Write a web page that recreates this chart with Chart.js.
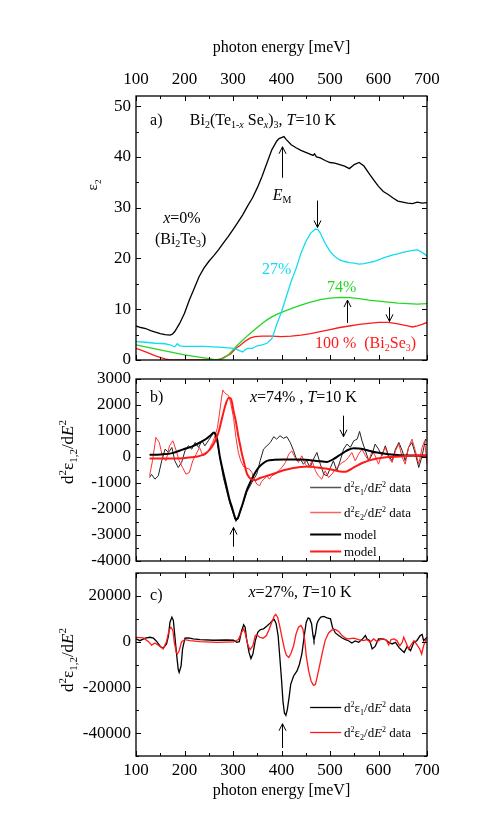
<!DOCTYPE html>
<html>
<head>
<meta charset="utf-8">
<script src="https://cdn.jsdelivr.net/npm/chart.js@4.4.1/dist/chart.umd.min.js"></script>
<style>
  html, body { margin: 0; padding: 0; background: #fff; }
  body { width: 491px; height: 839px; position: relative; overflow: hidden; }
  canvas { position: absolute; left: 0; }
</style>
</head>
<body>
<canvas id="chartA" width="491" height="380" style="top:0px"></canvas>
<canvas id="chartB" width="491" height="230" style="top:350px"></canvas>
<canvas id="chartC" width="491" height="284" style="top:555px"></canvas>
<script>
// tick labels
const energyTicks = [100, 200, 300, 400, 500, 600, 700];
const epsTicks = [0, 10, 20, 30, 40, 50];
const d2TicksB = [-4000, -3000, -2000, -1000, 0, 1000, 2000, 3000];
const d2TicksC = [-40000, -20000, 0, 20000];

// panel a: eps2 spectra
const eX0 = [100,110,120,130,140,150,160,170,175,180,190,200,210,220,230,240,250,260,270,280,290,300,310,320,330,340,350,360,370,380,390,395,400,405,410,420,430,440,450,460,465,468,472,480,490,500,510,520,530,540,550,560,570,580,590,600,610,620,630,640,650,660,670,680,690,700];
const epsX0 = [6.7,6.4,6.2,5.8,5.5,5.2,5.0,4.9,5.1,5.6,7.2,9.2,11.8,14.1,16.4,18.1,19.4,20.5,21.7,23.0,24.3,25.7,27.1,28.6,30.3,31.9,33.9,36.2,38.8,41.4,43.1,43.6,43.8,44.0,43.4,42.4,41.8,41.3,40.9,40.5,40.3,40.6,40.0,39.8,39.3,38.9,38.8,38.5,38.2,37.7,38.5,38.9,38.2,36.8,35.5,34.2,33.2,32.6,31.9,31.3,31.1,30.9,30.8,31.1,30.9,31.0];
const eX27 = [100,120,140,160,170,180,185,190,200,220,240,260,280,300,310,320,325,330,340,350,360,370,380,385,390,395,400,410,420,430,440,450,460,470,475,480,490,500,510,520,530,540,550,560,570,580,590,600,610,620,630,640,650,660,670,680,690,700];
const epsX27 = [3.6,3.5,3.3,3.2,3.0,2.6,3.2,2.8,2.7,2.7,2.7,2.6,2.5,2.3,2.0,1.6,2.0,2.3,2.3,2.8,3.0,3.3,4.2,5.5,7.0,8.2,9.5,12.5,15.5,18.0,21.0,23.3,25.0,25.8,25.7,25.0,23.0,21.4,20.4,19.7,19.4,19.2,19.1,18.9,19.0,19.2,19.4,19.7,20.1,20.4,20.7,20.9,21.2,21.4,21.6,21.7,21.2,20.5];
const eX74 = [100,120,140,160,180,200,220,240,260,270,280,290,300,310,320,330,340,350,360,370,380,390,400,420,440,460,480,500,520,540,560,580,600,620,640,660,680,700];
const epsX74 = [3.0,2.6,2.2,1.8,1.4,1.0,0.7,0.4,0.1,0.0,0.3,1.0,2.0,3.0,3.9,4.8,5.6,6.4,7.2,7.9,8.5,9.0,9.4,10.1,10.8,11.4,11.9,12.2,12.35,12.3,12.1,11.8,11.6,11.4,11.2,11.1,11.0,11.1];
const eX100 = [100,120,140,160,170,200,240,265,275,285,295,305,315,325,335,345,360,380,400,420,440,460,480,500,520,540,560,580,600,620,640,660,670,680,690,700];
const epsX100 = [2.3,1.6,0.8,0.2,0,0,0,0,0.2,0.7,1.2,2.2,2.9,3.7,4.3,4.6,4.7,4.7,4.6,4.7,4.9,5.2,5.6,6.0,6.4,6.7,7.0,7.2,7.4,7.4,7.1,6.7,6.5,6.7,7.0,7.4];

// panel b: x=74%, second derivatives, data and model
const eD1b = [128,132,139,146,153,160,167,174,180,187,194,201,208,215,222,229,236,242,249,256,261,267,273,280,287,294,301,306,311,318,328,339,349,356,363,370,377,384,390,397,404,411,418,425,432,439,445,452,459,466,473,480,487,494,501,507,514,521,528,535,542,549,556,561,566,573,580,587,593,600,607,614,621,628,635,642,649,655,662,669,676,683,690,697,700];
const d2e1b = [-790,-668,-853,-724,-146,303,175,367,-146,-403,-211,239,431,303,560,367,624,431,624,817,945,624,-18,-788,-1302,-1815,-2200,-2482,-2328,-1943,-1366,-981,-660,-146,303,431,560,780,688,817,720,780,560,239,-146,-82,-275,-146,-403,-82,175,-275,-660,-724,-403,-146,-532,-146,303,496,367,624,688,984,624,239,-146,110,496,303,46,431,46,-146,303,560,239,-146,367,560,110,-403,46,688,624];
const eD2b = [128,134,141,148,155,162,169,176,183,189,196,203,210,217,224,231,238,245,251,258,263,268,272,276,279,282,286,291,295,301,306,311,316,322,328,334,339,344,349,355,359,364,370,375,380,387,394,401,408,415,421,428,435,442,449,456,463,470,476,483,490,497,504,511,518,525,532,538,545,552,559,566,573,580,587,593,600,607,614,621,628,635,642,649,655,662,669,676,683,690,695,700];
const d2e2b = [-724,-146,752,560,-18,-146,431,624,239,-146,-403,-660,-596,-146,110,367,46,110,303,560,817,1138,1651,2229,2576,2486,2422,2357,2100,1523,752,175,-146,-380,-430,-467,-596,-853,-1045,-1109,-942,-853,-724,-853,-724,-660,-532,-403,-211,110,239,-18,-211,46,-275,-403,-146,-532,-724,-853,-532,-788,-660,-467,-339,-211,-146,-18,175,-146,110,303,46,-146,239,46,-275,110,367,-18,-211,239,496,-18,-275,367,688,239,-275,367,624,-275];
const eM1b = [128,150,175,198,215,232,245,253,261,267,273,280,287,293,298,302,306,310,315,320,328,335,342,349,356,363,370,385,404,439,473,494,507,518,528,538,549,559,569,583,597,620,645,670,700];
const model1b = [85,100,150,300,400,560,700,820,945,700,0,-600,-1170,-1650,-1940,-2200,-2390,-2350,-2070,-1800,-1300,-1000,-730,-500,-340,-230,-150,-110,-100,-100,-150,-190,-80,50,170,280,340,330,300,230,170,110,70,55,50];
const eM2b = [128,160,198,215,232,246,253,260,265,270,277,284,291,295,298,301,305,308,311,315,318,322,328,332,337,346,356,370,387,404,420,439,456,473,490,500,511,521,532,540,549,559,569,583,597,620,645,670,700];
const model2b = [-55,-55,-45,-10,45,175,300,500,700,945,1460,1970,2270,2260,2100,1780,1450,1140,800,430,150,-150,-600,-750,-850,-890,-810,-725,-620,-510,-440,-380,-370,-400,-440,-470,-520,-560,-570,-500,-400,-300,-210,-120,-55,0,20,50,70];

// panel c: x=27%, second derivatives
const eC1 = [100,108,119,129,136,143,150,156,163,167,170,174,177,180,184,187,189,193,196,201,208,218,232,260,287,301,308,313,318,322,325,328,333,337,341,346,351,356,363,370,377,382,385,389,393,396,400,403,406,409,412,416,419,425,432,437,442,447,451,455,458,462,465,467,470,473,476,481,487,494,501,505,511,518,525,532,538,545,552,559,566,573,576,582,587,593,600,607,614,621,628,635,642,649,653,659,666,673,679,686,690,693,700];
const d2e1c = [1200,400,1500,1900,1500,0,-2100,-2900,-1000,2650,8500,10700,9300,2650,-6200,-12000,-13500,-10600,-3200,1500,1600,1200,900,600,700,600,-300,0,4900,7400,6300,1200,-4700,-7400,-5400,400,4100,5200,5600,6800,8200,9300,9700,7800,2650,-5400,-16500,-26000,-31200,-32200,-29700,-23800,-18700,-15000,-12800,-9900,-5400,2650,8500,10400,10000,7800,2650,700,3400,7800,9300,10700,11000,10400,10000,6300,3800,2650,1600,900,400,-600,300,-300,900,2650,1200,400,-3200,-2100,1200,1200,900,-300,-1000,-300,-2500,-4000,-4700,-2100,-4000,-300,400,2650,3100,400,1900];
const eC2 = [100,115,126,132,139,150,156,163,168,172,176,179,183,185,189,194,201,211,232,267,301,311,318,322,325,330,335,341,346,349,355,362,369,375,380,385,388,392,396,401,406,410,415,419,425,430,435,440,444,448,451,456,461,466,470,474,480,485,490,497,504,511,518,525,532,538,549,559,569,576,583,590,597,604,610,616,621,626,632,638,644,649,652,658,662,667,673,678,685,689,693,700];
const d2e2c = [1900,1600,0,-1500,-600,-2100,-3200,0,4900,6300,4900,-300,-4700,-5400,-4000,0,900,450,0,-300,-150,900,4100,5600,3800,-1000,-3500,-1800,2650,2900,1900,1500,2650,5600,8500,11200,11900,10700,7100,1900,-3200,-5900,-6900,-5400,-1800,3400,6300,7100,5600,450,-6200,-12800,-17200,-19100,-18700,-15000,-9100,-4000,450,3800,5100,5300,4400,2650,1500,1200,1500,900,450,900,-300,1200,0,900,1200,700,-1500,900,1200,450,-1800,-300,1900,-1000,-3200,-1500,450,-1000,-3200,-5400,-1800,1900];

const FONT = '"Liberation Serif", "Times New Roman", Times, serif';
const CYAN = '#12dcf0', GREEN = '#22d822', RED = '#ff1a1a';

function series(xs, ys, color, width, smooth) {
  return {
    data: xs.map((x, i) => ({ x: x, y: ys[i] })),
    borderColor: color, borderWidth: width, pointRadius: 0, fill: false,
    tension: 0, cubicInterpolationMode: smooth ? 'monotone' : 'default'
  };
}

// rich text: [text, style] with style '', 'i', 'sub', 'sup', 'isub'
function drawRich(ctx, segs, x, y, size, color, center) {
  const parts = segs.map(([t, st]) => {
    const small = st === 'sub' || st === 'sup' || st === 'isub';
    const fs = small ? Math.round(size * 0.62) : size;
    const font = (st === 'i' || st === 'isub' ? 'italic ' : '') + fs + 'px ' + FONT;
    ctx.font = font;
    const dy = st === 'sup' ? -size * 0.38 : (small ? size * 0.22 : 0);
    return { t: t, font: font, w: ctx.measureText(t).width, dy: dy };
  });
  let cx = center ? x - parts.reduce((s, p) => s + p.w, 0) / 2 : x;
  ctx.fillStyle = color;
  ctx.textAlign = 'left';
  ctx.textBaseline = 'alphabetic';
  parts.forEach(p => { ctx.font = p.font; ctx.fillText(p.t, cx, y + p.dy); cx += p.w; });
}

function framePlugin(yStart, yEnd, yMinor, yMajor) {
  return {
    id: 'frame',
    afterDatasetsDraw(chart) {
      const { ctx, chartArea: a, scales: { x, y } } = chart;
      ctx.save();
      ctx.strokeStyle = '#000';
      ctx.lineWidth = 1;
      ctx.beginPath();
      for (let v = 100; v <= 700; v += 50) {
        const px = Math.round(x.getPixelForValue(v)) + 0.5;
        const len = v % 100 === 0 ? 5 : 3;
        ctx.moveTo(px, a.top); ctx.lineTo(px, a.top + len);
        ctx.moveTo(px, a.bottom); ctx.lineTo(px, a.bottom - len);
      }
      for (let v = yStart; v <= yEnd + 1e-6; v += yMinor) {
        const py = Math.round(y.getPixelForValue(v)) + 0.5;
        const len = Math.abs(Math.round(v / yMajor) * yMajor - v) < 1e-6 ? 5 : 3;
        ctx.moveTo(a.left, py); ctx.lineTo(a.left + len, py);
        ctx.moveTo(a.right, py); ctx.lineTo(a.right - len, py);
      }
      ctx.stroke();
      ctx.lineWidth = 1.3;
      ctx.strokeRect(a.left, a.top, a.right - a.left, a.bottom - a.top);
      ctx.restore();
    }
  };
}

// notes: texts, arrows, legend rows in data units; axis titles in pixels
function notesPlugin(items) {
  return {
    id: 'notes',
    afterDraw(chart) {
      const { ctx, scales: { x, y } } = chart;
      ctx.save();
      items.forEach(it => {
        if (it.kind === 'text') {
          drawRich(ctx, it.segs, x.getPixelForValue(it.x), y.getPixelForValue(it.y), it.size || 16, it.color || '#000', false);
        } else if (it.kind === 'arrow') {
          const px = Math.round(x.getPixelForValue(it.x)) + 0.5;
          const y1 = y.getPixelForValue(it.from), y2 = y.getPixelForValue(it.to);
          const dir = y2 > y1 ? 1 : -1;
          ctx.strokeStyle = '#000'; ctx.lineWidth = 1;
          ctx.beginPath();
          ctx.moveTo(px, y1); ctx.lineTo(px, y2);
          ctx.moveTo(px - 3.5, y2 - dir * 7); ctx.lineTo(px, y2); ctx.lineTo(px + 3.5, y2 - dir * 7);
          ctx.stroke();
        } else if (it.kind === 'legend') {
          const py = Math.round(y.getPixelForValue(it.y)) + 0.5;
          ctx.strokeStyle = it.color; ctx.lineWidth = it.width;
          ctx.beginPath();
          ctx.moveTo(x.getPixelForValue(it.x1), py); ctx.lineTo(x.getPixelForValue(it.x2), py);
          ctx.stroke();
          drawRich(ctx, it.segs, x.getPixelForValue(it.tx), py + 4.5, 13, '#000', false);
        } else if (it.kind === 'ytitle') {
          ctx.save();
          ctx.translate(it.px, it.py);
          ctx.rotate(-Math.PI / 2);
          drawRich(ctx, it.segs, 0, it.size * 0.35, it.size, '#000', true);
          ctx.restore();
        }
      });
      ctx.restore();
    }
  };
}

function xAxis(position, show) {
  const axis = {
    type: 'linear', position: position, min: 100, max: 700, display: show,
    grid: { display: false, drawTicks: false }, border: { display: false },
    ticks: { font: { size: 17, family: FONT }, color: '#000', padding: position === 'top' ? 6 : 4, maxRotation: 0, autoSkip: false, callback: v => String(v) },
    afterBuildTicks: s => { s.ticks = energyTicks.map(v => ({ value: v })); },
    title: { display: true, text: 'photon energy [meV]', font: { size: 16, family: FONT }, color: '#000', padding: { top: 4, bottom: 4 } }
  };
  if (show) axis.afterFit = s => { s.height = position === 'top' ? 62 : 48; };
  return axis;
}

function yAxis(min, max, tickList) {
  return {
    type: 'linear', min: min, max: max,
    grid: { display: false, drawTicks: false }, border: { display: false },
    ticks: { font: { size: 17, family: FONT }, color: '#000', padding: 5, autoSkip: false, callback: v => String(v) },
    afterBuildTicks: s => { s.ticks = tickList.map(v => ({ value: v })); },
    afterFit: s => { s.width = 136; }
  };
}

function baseOptions(padding, xa, ya) {
  return {
    responsive: false, animation: false, events: [],
    layout: { padding: padding },
    plugins: { legend: { display: false }, tooltip: { enabled: false } },
    scales: { x: xa, y: ya }
  };
}

const d2e1Label = [['d', ''], ['2', 'sup'], ['ε', ''], ['1', 'sub'], ['/d', ''], ['E', 'i'], ['2', 'sup'], [' data', '']];
const d2e2Label = [['d', ''], ['2', 'sup'], ['ε', ''], ['2', 'sub'], ['/d', ''], ['E', 'i'], ['2', 'sup'], [' data', '']];
const d2Title = [['d', ''], ['2', 'sup'], ['ε', ''], ['1,2', 'sub'], ['/d', ''], ['E', 'i'], ['2', 'sup']];

// ---- panel a ----
new Chart(document.getElementById('chartA'), {
  type: 'line',
  data: {
    datasets: [
      series(eX0, epsX0, '#000', 1.3),
      series(eX27, epsX27, CYAN, 1.3),
      series(eX74, epsX74, GREEN, 1.3),
      series(eX100, epsX100, RED, 1.3)
    ]
  },
  options: baseOptions({ top: 34, left: 0, right: 64, bottom: 20 }, xAxis('top', true), yAxis(0, 52, epsTicks)),
  plugins: [framePlugin(0, 50, 5, 10), notesPlugin([
    { kind: 'text', x: 129, y: 46.3, segs: [['a)', '']] },
    { kind: 'text', x: 211, y: 46.3, segs: [['Bi', ''], ['2', 'sub'], ['(Te', ''], ['1-', 'sub'], ['x', 'isub'], [' Se', ''], ['x', 'isub'], [')', ''], ['3', 'sub'], [', ', ''], ['T', 'i'], ['=10 K', '']] },
    { kind: 'arrow', x: 400, from: 35.9, to: 42.0 },
    { kind: 'text', x: 382, y: 31.6, segs: [['E', 'i'], ['M', 'sub']] },
    { kind: 'text', x: 156, y: 27.0, segs: [['x', 'i'], ['=0%', '']] },
    { kind: 'text', x: 139, y: 22.9, segs: [['(Bi', ''], ['2', 'sub'], ['Te', ''], ['3', 'sub'], [')', '']] },
    { kind: 'arrow', x: 473, from: 31.4, to: 26.1 },
    { kind: 'text', x: 360, y: 16.9, segs: [['27%', '']], color: CYAN },
    { kind: 'text', x: 494, y: 13.3, segs: [['74%', '']], color: GREEN },
    { kind: 'arrow', x: 535, from: 7.3, to: 11.8 },
    { kind: 'arrow', x: 621, from: 10.4, to: 7.6 },
    { kind: 'text', x: 469, y: 2.4, segs: [['100 %  (Bi', ''], ['2', 'sub'], ['Se', ''], ['3', 'sub'], [')', '']], color: RED },
    { kind: 'ytitle', px: 92, py: 185, size: 15, segs: [['ε', ''], ['2', 'sub']] }
  ])]
});

// ---- panel b ----
new Chart(document.getElementById('chartB'), {
  type: 'line',
  data: {
    datasets: [
      series(eM2b, model2b, RED, 2, true),
      series(eM1b, model1b, '#000', 2, true),
      series(eD2b, d2e2b, '#ff3030', 1),
      series(eD1b, d2e1b, '#222', 1)
    ]
  },
  options: baseOptions({ top: 29, left: 0, right: 64, bottom: 19 }, xAxis('bottom', false), yAxis(-4000, 3000, d2TicksB)),
  plugins: [framePlugin(-4000, 3000, 500, 1000), notesPlugin([
    { kind: 'text', x: 129, y: 2100, segs: [['b)', '']] },
    { kind: 'text', x: 335, y: 2100, segs: [['x', 'i'], ['=74% , ', ''], ['T', 'i'], ['=10 K', '']] },
    { kind: 'arrow', x: 527, from: 1590, to: 780 },
    { kind: 'arrow', x: 300, from: -3450, to: -2710 },
    { kind: 'legend', x1: 459, x2: 523, tx: 529, y: -1150, color: '#555', width: 1.5, segs: d2e1Label },
    { kind: 'legend', x1: 459, x2: 523, tx: 529, y: -2110, color: '#ff6060', width: 1.5, segs: d2e2Label },
    { kind: 'legend', x1: 459, x2: 523, tx: 529, y: -2950, color: '#000', width: 2, segs: [['model', '']] },
    { kind: 'legend', x1: 459, x2: 523, tx: 529, y: -3610, color: RED, width: 2, segs: [['model', '']] },
    { kind: 'ytitle', px: 67, py: 102, size: 17, segs: d2Title }
  ])]
});

// ---- panel c ----
new Chart(document.getElementById('chartC'), {
  type: 'line',
  data: {
    datasets: [
      series(eC2, d2e2c, RED, 1.3),
      series(eC1, d2e1c, '#000', 1.3)
    ]
  },
  options: baseOptions({ top: 18, left: 0, right: 64, bottom: 35 }, xAxis('bottom', true), yAxis(-50000, 30000, d2TicksC)),
  plugins: [framePlugin(-50000, 30000, 10000, 20000), notesPlugin([
    { kind: 'text', x: 129, y: 18300, segs: [['c)', '']] },
    { kind: 'text', x: 332, y: 19300, segs: [['x', 'i'], ['=27%, ', ''], ['T', 'i'], ['=10 K', '']] },
    { kind: 'arrow', x: 400, from: -46500, to: -35900 },
    { kind: 'legend', x1: 459, x2: 523, tx: 529, y: -28400, color: '#000', width: 1.3, segs: d2e1Label },
    { kind: 'legend', x1: 459, x2: 523, tx: 529, y: -39300, color: RED, width: 1.3, segs: d2e2Label },
    { kind: 'ytitle', px: 67, py: 105, size: 17, segs: d2Title }
  ])]
});
</script>
</body>
</html>
